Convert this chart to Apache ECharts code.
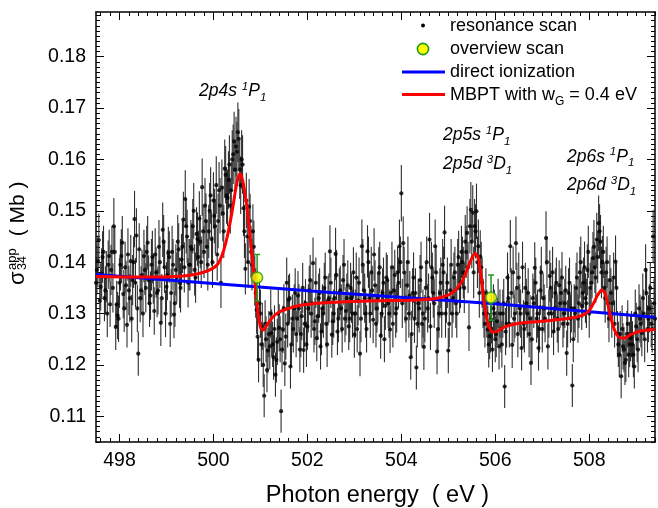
<!DOCTYPE html>
<html><head><meta charset="utf-8">
<script src="https://cdn.jsdelivr.net/npm/echarts@6/dist/echarts.min.js"></script>
<style>html,body{margin:0;padding:0;background:#fff}#c{width:658px;height:508px}</style>
</head><body><div id="c"></div>
<script>
// ---- data ----
// resonance scan, first set of scan points
const energies = [
497.52,497.56,497.60,497.64,497.68, 497.72,497.76,497.80,497.84,497.88,
497.92,497.96,498.00,498.04,498.08, 498.12,498.16,498.20,498.24,498.28,
498.32,498.36,498.40,498.44,498.48, 498.52,498.56,498.60,498.64,498.68,
498.72,498.76,498.80,498.84,498.88, 498.92,498.96,499.00,499.04,499.08,
499.12,499.16,499.20,499.24,499.28, 499.32,499.36,499.40,499.44,499.48,
499.52,499.56,499.60,499.64,499.68, 499.72,499.76,499.80,499.84,499.88,
499.92,499.96,500.00,500.04,500.08, 500.12,500.16,500.20,500.24,500.28,
500.32,500.36,500.40,500.44,500.48, 500.52,500.56,500.60,500.64,500.68,
500.72,500.76,500.80,500.84,500.88, 500.92,500.96,501.00,501.04,501.08,
501.12,501.16,501.20,501.24,501.28, 501.32,501.36,501.40,501.44,501.48,
501.52,501.56,501.60,501.64,501.68, 501.72,501.76,501.80,501.84,501.88,
501.92,501.96,502.00,502.04,502.08, 502.12,502.16,502.20,502.24,502.28,
502.32,502.36,502.40,502.44,502.48, 502.52,502.56,502.60,502.64,502.68,
502.72,502.76,502.80,502.84,502.88, 502.92,502.96,503.00,503.04,503.08,
503.12,503.16,503.20,503.24,503.28, 503.32,503.36,503.40,503.44,503.48,
503.52,503.56,503.60,503.64,503.68, 503.72,503.76,503.80,503.84,503.88,
503.92,503.96,504.00,504.04,504.08, 504.12,504.16,504.20,504.24,504.28,
504.32,504.36,504.40,504.44,504.48, 504.52,504.56,504.60,504.64,504.68,
504.72,504.76,504.80,504.84,504.88, 504.92,504.96,505.00,505.04,505.08,
505.12,505.16,505.20,505.24,505.28, 505.32,505.36,505.40,505.44,505.48,
505.52,505.56,505.60,505.64,505.68, 505.72,505.76,505.80,505.84,505.88,
505.92,505.96,506.00,506.04,506.08, 506.12,506.16,506.20,506.24,506.28,
506.32,506.36,506.40,506.44,506.48, 506.52,506.56,506.60,506.64,506.68,
506.72,506.76,506.80,506.84,506.88, 506.92,506.96,507.00,507.04,507.08,
507.12,507.16,507.20,507.24,507.28, 507.32,507.36,507.40,507.44,507.48,
507.52,507.56,507.60,507.64,507.68, 507.72,507.76,507.80,507.84,507.88,
507.92,507.96,508.00,508.04,508.08, 508.12,508.16,508.20,508.24,508.28,
508.32,508.36,508.40,508.44,508.48, 508.52,508.56,508.60,508.64,508.68,
508.72,508.76,508.80,508.84,508.88, 508.92,508.96,509.00,509.04,509.08,
509.12,509.16,509.20,509.24,509.28, 509.32,509.36,509.40
];
const values = [
0.1385,0.1443,0.1352,0.1410,0.1330, 0.1372,0.1395,0.1318,0.1420,0.1470,
0.1274,0.1296,0.1360,0.1412,0.1338, 0.1390,0.1278,0.1345,0.1402,0.1365,
0.1484,0.1452,0.1222,0.1330,0.1375, 0.1412,0.1350,0.1438,0.1320,0.1395,
0.1368,0.1415,0.1340,0.1430,0.1282, 0.1463,0.1390,0.1352,0.1418,0.1280,
0.1420,0.1298,0.1385,0.1440,0.1360, 0.1405,0.1483,0.1523,0.1450,0.1395,
0.1430,0.1470,0.1385,0.1455,0.1410, 0.1440,0.1546,0.1420,0.1480,0.1395,
0.1500,0.1445,0.1520,0.1470,0.1415, 0.1540,0.1360,0.1495,0.1582,0.1530,
0.1560,0.1510,0.1600,0.1635,0.1625, 0.1653,0.1580,0.1600,0.1505,0.1387,
0.1450,0.1508,0.1420,0.1460,0.1364, 0.1307,0.1210,0.1300,0.1275,0.1140,
0.1250,0.1228,0.1236,0.1262,0.1215, 0.1181,0.1245,0.1272,0.1110,0.1269,
0.1203,0.1360,0.1327,0.1197,0.1290, 0.1310,0.1260,0.1335,0.1230,0.1295,
0.1229,0.1320,0.1275,0.1345,0.1300, 0.1398,0.1285,0.1252,0.1330,0.1236,
0.1310,0.1350,0.1280,0.1325,0.1421, 0.1259,0.1300,0.1416,0.1265,0.1340,
0.1310,0.1365,0.1290,0.1330,0.1275, 0.1350,0.1300,0.1259,0.1370,0.1325,
0.1222,0.1431,0.1345,0.1300,0.1421, 0.1330,0.1380,0.1288,0.1355,0.1310,
0.1379,0.1257,0.1340,0.1250,0.1370, 0.1320,0.1269,0.1390,0.1345,0.1300,
0.1380,0.1431,0.1534,0.1437,0.1330, 0.1355,0.1300,0.1215,0.1340,0.1290,
0.1195,0.1320,0.1365,0.1280,0.1235, 0.1350,0.1310,0.1444,0.1390,0.1340,
0.1431,0.1226,0.1300,0.1360,0.1395, 0.1458,0.1330,0.1228,0.1345,0.1300,
0.1370,0.1320,0.1395,0.1350,0.1420, 0.1380,0.1440,0.1457,0.1273,0.1502,
0.1496,0.1470,0.1499,0.1431,0.1411, 0.1360,0.1300,0.1340,0.1269,0.1256,
0.1288,0.1310,0.1250,0.1285,0.1236, 0.1270,0.1300,0.1158,0.1280,0.1330,
0.1431,0.1239,0.1290,0.1437,0.1260, 0.1310,0.1233,0.1280,0.1350,0.1300,
0.1260,0.1204,0.1330,0.1389,0.1290, 0.1233,0.1345,0.1270,0.1310,0.1447,
0.1236,0.1373,0.1300,0.1265,0.1340, 0.1290,0.1355,0.1340,0.1280,0.1320,
0.1223,0.1340,0.1290,0.1160,0.1310, 0.1350,0.1290,0.1380,0.1315,0.1360,
0.1330,0.1385,0.1300,0.1360,0.1408, 0.1390,0.1444,0.1476,0.1440,0.1400,
0.1350,0.1380,0.1320,0.1365,0.1300, 0.1370,0.1401,0.1260,0.1220,0.1178,
0.1236,0.1204,0.1260,0.1220,0.1252, 0.1240,0.1197,0.1275,0.1230,0.1290,
0.1262,0.1300,0.1385,0.1270,0.1310, 0.1280,0.1450,0.1290
];
const errors = [
0.0048,0.0052,0.0046,0.0050,0.0045, 0.0050,0.0047,0.0044,0.0051,0.0055,
0.0045,0.0046,0.0049,0.0052,0.0047, 0.0050,0.0044,0.0048,0.0051,0.0049,
0.0055,0.0053,0.0043,0.0047,0.0049, 0.0051,0.0048,0.0052,0.0046,0.0050,
0.0049,0.0051,0.0047,0.0052,0.0045, 0.0053,0.0050,0.0048,0.0051,0.0045,
0.0051,0.0046,0.0050,0.0052,0.0049, 0.0050,0.0054,0.0056,0.0052,0.0050,
0.0052,0.0053,0.0050,0.0052,0.0051, 0.0052,0.0056,0.0051,0.0054,0.0050,
0.0054,0.0052,0.0055,0.0053,0.0051, 0.0055,0.0049,0.0054,0.0057,0.0055,
0.0056,0.0054,0.0057,0.0058,0.0058, 0.0058,0.0057,0.0057,0.0054,0.0050,
0.0052,0.0054,0.0051,0.0053,0.0049, 0.0047,0.0044,0.0047,0.0046,0.0042,
0.0045,0.0044,0.0045,0.0046,0.0044, 0.0043,0.0045,0.0046,0.0042,0.0046,
0.0044,0.0049,0.0048,0.0043,0.0047, 0.0047,0.0045,0.0048,0.0044,0.0047,
0.0044,0.0047,0.0046,0.0048,0.0047, 0.0050,0.0046,0.0045,0.0048,0.0045,
0.0047,0.0049,0.0046,0.0048,0.0051, 0.0045,0.0047,0.0051,0.0046,0.0048,
0.0047,0.0049,0.0046,0.0048,0.0046, 0.0049,0.0047,0.0045,0.0049,0.0048,
0.0044,0.0052,0.0048,0.0047,0.0051, 0.0048,0.0050,0.0046,0.0049,0.0047,
0.0050,0.0045,0.0048,0.0045,0.0049, 0.0048,0.0046,0.0050,0.0048,0.0047,
0.0050,0.0052,0.0055,0.0052,0.0048, 0.0049,0.0047,0.0044,0.0048,0.0047,
0.0043,0.0048,0.0049,0.0046,0.0045, 0.0049,0.0047,0.0052,0.0050,0.0048,
0.0052,0.0044,0.0047,0.0049,0.0050, 0.0052,0.0048,0.0044,0.0048,0.0047,
0.0049,0.0048,0.0050,0.0049,0.0051, 0.0050,0.0052,0.0052,0.0046,0.0054,
0.0054,0.0053,0.0054,0.0052,0.0051, 0.0049,0.0047,0.0048,0.0046,0.0045,
0.0046,0.0047,0.0045,0.0046,0.0045, 0.0046,0.0047,0.0042,0.0046,0.0048,
0.0051,0.0045,0.0047,0.0052,0.0045, 0.0047,0.0044,0.0046,0.0049,0.0047,
0.0045,0.0043,0.0048,0.0050,0.0047, 0.0044,0.0048,0.0046,0.0047,0.0052,
0.0045,0.0050,0.0047,0.0046,0.0048, 0.0047,0.0049,0.0048,0.0046,0.0048,
0.0044,0.0048,0.0047,0.0042,0.0047, 0.0049,0.0047,0.0050,0.0047,0.0049,
0.0048,0.0050,0.0047,0.0049,0.0051, 0.0050,0.0052,0.0054,0.0052,0.0051,
0.0049,0.0050,0.0048,0.0049,0.0047, 0.0049,0.0051,0.0045,0.0044,0.0043,
0.0045,0.0043,0.0045,0.0044,0.0045, 0.0045,0.0043,0.0046,0.0044,0.0047,
0.0045,0.0047,0.0050,0.0046,0.0047, 0.0046,0.0052,0.0047
];
// resonance scan, interleaved second set of scan points
const energies2 = [
497.50,497.54,497.58,497.62,497.66, 497.70,497.74,497.78,497.82,497.86,
497.90,497.94,497.98,498.02,498.06, 498.10,498.14,498.18,498.22,498.26,
498.30,498.34,498.38,498.42,498.46, 498.50,498.54,498.58,498.62,498.66,
498.70,498.74,498.78,498.82,498.86, 498.90,498.94,498.98,499.02,499.06,
499.10,499.14,499.18,499.22,499.26, 499.30,499.34,499.38,499.42,499.46,
499.50,499.54,499.58,499.62,499.66, 499.70,499.74,499.78,499.82,499.86,
499.90,499.94,499.98,500.02,500.06, 500.10,500.14,500.18,500.22,500.26,
500.30,500.34,500.38,500.42,500.46, 500.50,500.54,500.58,500.62,500.66,
500.70,500.74,500.78,500.82,500.86, 500.90,500.94,500.98,501.02,501.06,
501.10,501.14,501.18,501.22,501.26, 501.30,501.34,501.38,501.42,501.46,
501.50,501.54,501.58,501.62,501.66, 501.70,501.74,501.78,501.82,501.86,
501.90,501.94,501.98,502.02,502.06, 502.10,502.14,502.18,502.22,502.26,
502.30,502.34,502.38,502.42,502.46, 502.50,502.54,502.58,502.62,502.66,
502.70,502.74,502.78,502.82,502.86, 502.90,502.94,502.98,503.02,503.06,
503.10,503.14,503.18,503.22,503.26, 503.30,503.34,503.38,503.42,503.46,
503.50,503.54,503.58,503.62,503.66, 503.70,503.74,503.78,503.82,503.86,
503.90,503.94,503.98,504.02,504.06, 504.10,504.14,504.18,504.22,504.26,
504.30,504.34,504.38,504.42,504.46, 504.50,504.54,504.58,504.62,504.66,
504.70,504.74,504.78,504.82,504.86, 504.90,504.94,504.98,505.02,505.06,
505.10,505.14,505.18,505.22,505.26, 505.30,505.34,505.38,505.42,505.46,
505.50,505.54,505.58,505.62,505.66, 505.70,505.74,505.78,505.82,505.86,
505.90,505.94,505.98,506.02,506.06, 506.10,506.14,506.18,506.22,506.26,
506.30,506.34,506.38,506.42,506.46, 506.50,506.54,506.58,506.62,506.66,
506.70,506.74,506.78,506.82,506.86, 506.90,506.94,506.98,507.02,507.06,
507.10,507.14,507.18,507.22,507.26, 507.30,507.34,507.38,507.42,507.46,
507.50,507.54,507.58,507.62,507.66, 507.70,507.74,507.78,507.82,507.86,
507.90,507.94,507.98,508.02,508.06, 508.10,508.14,508.18,508.22,508.26,
508.30,508.34,508.38,508.42,508.46, 508.50,508.54,508.58,508.62,508.66,
508.70,508.74,508.78,508.82,508.86, 508.90,508.94,508.98,509.02,509.06,
509.10,509.14,509.18,509.22,509.26, 509.30,509.34,509.38
];
const values2 = [
0.1360,0.1402,0.1325,0.1378,0.1420, 0.1345,0.1300,0.1412,0.1385,0.1350,
0.1420,0.1318,0.1290,0.1395,0.1438, 0.1310,0.1355,0.1415,0.1330,0.1290,
0.1400,0.1360,0.1310,0.1425,0.1345, 0.1300,0.1385,0.1420,0.1365,0.1335,
0.1410,0.1305,0.1380,0.1345,0.1400, 0.1330,0.1440,0.1300,0.1375,0.1410,
0.1340,0.1395,0.1320,0.1370,0.1425, 0.1350,0.1430,0.1390,0.1470,0.1360,
0.1395,0.1425,0.1500,0.1370,0.1445, 0.1485,0.1400,0.1460,0.1510,0.1430,
0.1460,0.1530,0.1400,0.1490,0.1550, 0.1480,0.1510,0.1545,0.1460,0.1570,
0.1525,0.1590,0.1540,0.1610,0.1580, 0.1615,0.1640,0.1550,0.1590,0.1460,
0.1520,0.1400,0.1480,0.1395,0.1430, 0.1340,0.1255,0.1320,0.1240,0.1200,
0.1280,0.1190,0.1260,0.1300,0.1240, 0.1270,0.1210,0.1300,0.1250,0.1230,
0.1310,0.1255,0.1280,0.1330,0.1240, 0.1270,0.1340,0.1290,0.1310,0.1260,
0.1350,0.1280,0.1240,0.1310,0.1365, 0.1320,0.1270,0.1360,0.1295,0.1340,
0.1265,0.1300,0.1370,0.1240,0.1330, 0.1360,0.1285,0.1330,0.1375,0.1290,
0.1345,0.1270,0.1395,0.1305,0.1355, 0.1290,0.1330,0.1380,0.1300,0.1270,
0.1360,0.1290,0.1395,0.1330,0.1270, 0.1400,0.1300,0.1345,0.1415,0.1280,
0.1330,0.1390,0.1300,0.1360,0.1315, 0.1365,0.1300,0.1340,0.1280,0.1375,
0.1310,0.1360,0.1400,0.1320,0.1380, 0.1290,0.1400,0.1335,0.1260,0.1370,
0.1340,0.1280,0.1310,0.1390,0.1300, 0.1290,0.1400,0.1330,0.1275,0.1370,
0.1320,0.1380,0.1270,0.1340,0.1300, 0.1380,0.1300,0.1360,0.1280,0.1395,
0.1330,0.1380,0.1300,0.1410,0.1360, 0.1400,0.1350,0.1420,0.1390,0.1470,
0.1440,0.1380,0.1460,0.1400,0.1340, 0.1390,0.1320,0.1280,0.1300,0.1240,
0.1270,0.1230,0.1300,0.1260,0.1320, 0.1300,0.1240,0.1320,0.1265,0.1370,
0.1280,0.1340,0.1380,0.1300,0.1350, 0.1370,0.1300,0.1390,0.1270,0.1320,
0.1340,0.1290,0.1250,0.1320,0.1360, 0.1300,0.1270,0.1380,0.1330,0.1290,
0.1400,0.1300,0.1350,0.1380,0.1310, 0.1360,0.1270,0.1320,0.1370,0.1300,
0.1345,0.1280,0.1360,0.1310,0.1250, 0.1300,0.1370,0.1320,0.1400,0.1340,
0.1390,0.1320,0.1420,0.1350,0.1380, 0.1430,0.1370,0.1410,0.1460,0.1380,
0.1420,0.1330,0.1400,0.1290,0.1340, 0.1320,0.1280,0.1350,0.1240,0.1260,
0.1270,0.1230,0.1210,0.1280,0.1240, 0.1260,0.1220,0.1300,0.1250,0.1310,
0.1280,0.1330,0.1250,0.1340,0.1290, 0.1350,0.1270,0.1320
];
const errors2 = [
0.0049,0.0050,0.0046,0.0049,0.0051, 0.0047,0.0046,0.0051,0.0049,0.0048,
0.0051,0.0046,0.0045,0.0050,0.0052, 0.0046,0.0048,0.0051,0.0047,0.0046,
0.0050,0.0048,0.0046,0.0051,0.0047, 0.0046,0.0049,0.0051,0.0048,0.0047,
0.0051,0.0046,0.0049,0.0047,0.0050, 0.0047,0.0052,0.0046,0.0049,0.0050,
0.0047,0.0050,0.0046,0.0049,0.0051, 0.0048,0.0051,0.0049,0.0053,0.0048,
0.0050,0.0051,0.0054,0.0049,0.0052, 0.0053,0.0050,0.0052,0.0054,0.0051,
0.0052,0.0055,0.0050,0.0053,0.0056, 0.0053,0.0054,0.0055,0.0052,0.0056,
0.0055,0.0057,0.0055,0.0058,0.0057, 0.0058,0.0058,0.0056,0.0057,0.0052,
0.0054,0.0050,0.0053,0.0050,0.0051, 0.0048,0.0045,0.0047,0.0044,0.0043,
0.0046,0.0043,0.0045,0.0047,0.0044, 0.0046,0.0044,0.0047,0.0045,0.0044,
0.0047,0.0045,0.0046,0.0048,0.0044, 0.0046,0.0048,0.0046,0.0047,0.0045,
0.0049,0.0046,0.0044,0.0047,0.0049, 0.0047,0.0046,0.0049,0.0046,0.0048,
0.0046,0.0047,0.0049,0.0044,0.0048, 0.0049,0.0046,0.0048,0.0049,0.0046,
0.0048,0.0046,0.0050,0.0047,0.0049, 0.0046,0.0048,0.0049,0.0047,0.0046,
0.0049,0.0046,0.0050,0.0048,0.0046, 0.0050,0.0047,0.0048,0.0051,0.0046,
0.0048,0.0050,0.0047,0.0049,0.0047, 0.0049,0.0047,0.0048,0.0046,0.0049,
0.0047,0.0049,0.0050,0.0048,0.0050, 0.0046,0.0050,0.0048,0.0045,0.0049,
0.0048,0.0046,0.0047,0.0050,0.0047, 0.0046,0.0050,0.0048,0.0046,0.0049,
0.0048,0.0050,0.0046,0.0048,0.0047, 0.0050,0.0047,0.0049,0.0046,0.0050,
0.0048,0.0050,0.0047,0.0051,0.0049, 0.0050,0.0049,0.0051,0.0050,0.0053,
0.0052,0.0050,0.0053,0.0050,0.0048, 0.0050,0.0048,0.0046,0.0047,0.0045,
0.0046,0.0044,0.0047,0.0045,0.0048, 0.0047,0.0045,0.0048,0.0046,0.0049,
0.0046,0.0048,0.0050,0.0047,0.0049, 0.0049,0.0047,0.0050,0.0046,0.0048,
0.0048,0.0046,0.0045,0.0048,0.0049, 0.0047,0.0046,0.0050,0.0048,0.0046,
0.0050,0.0047,0.0049,0.0050,0.0047, 0.0049,0.0046,0.0048,0.0050,0.0047,
0.0048,0.0046,0.0049,0.0047,0.0045, 0.0047,0.0049,0.0048,0.0050,0.0048,
0.0050,0.0048,0.0051,0.0049,0.0050, 0.0052,0.0049,0.0051,0.0053,0.0050,
0.0051,0.0048,0.0050,0.0046,0.0048, 0.0047,0.0046,0.0049,0.0044,0.0045,
0.0046,0.0044,0.0043,0.0046,0.0044, 0.0045,0.0044,0.0047,0.0045,0.0047,
0.0046,0.0048,0.0045,0.0048,0.0046, 0.0049,0.0046,0.0048
];
const overviewEnergies = [500.93, 505.91];
const overviewValues = [0.1370, 0.1331];
const overviewErrors = [0.0045, 0.0044];
const directIonization = [[497.5,0.1376],[502.5,0.1341],[506.0,0.1319],[509.4,0.1293]];
const mbptCurve = [
[497.5,0.1372],[498.5,0.1371],[499.2,0.1372],[499.6,0.1376],[499.9,0.1384],[500.08,0.1395],
[500.2,0.1418],[500.3,0.1452],[500.4,0.1500],[500.48,0.1545],[500.56,0.1572],[500.62,0.1560],
[500.68,0.1528],[500.73,0.1495],[500.78,0.1450],[500.83,0.1405],[500.89,0.1353],[500.95,0.1300],
[501.01,0.1272],[501.06,0.1268],[501.13,0.1276],[501.25,0.1292],[501.4,0.1303],[501.6,0.1310],
[501.85,0.1316],[502.2,0.1320],[502.8,0.1323],[503.5,0.1325],[504.2,0.1326],[504.7,0.1329],
[505.0,0.1336],[505.15,0.1346],[505.3,0.1364],[505.42,0.1390],[505.5,0.1408],[505.57,0.1417],
[505.63,0.1410],[505.68,0.1385],[505.74,0.1340],[505.8,0.1300],[505.87,0.1274],[505.95,0.1264],
[506.05,0.1266],[506.2,0.1274],[506.5,0.1281],[507.0,0.1285],[507.5,0.1290],[507.8,0.1295],
[507.98,0.1304],[508.08,0.1318],[508.18,0.1336],[508.27,0.1346],[508.34,0.1338],[508.42,0.1308],
[508.52,0.1272],[508.62,0.1255],[508.73,0.1252],[508.9,0.1260],[509.1,0.1266],[509.4,0.1269]
];
const xTickLabels = [498, 500, 502, 504, 506, 508];
const yTickLabels = [0.11, 0.12, 0.13, 0.14, 0.15, 0.16, 0.17, 0.18];
const xRange = [497.5, 509.4];
const yRange = [0.105, 0.1887];

// ---- helpers ----
const FONT = '"Liberation Sans", Arial, Helvetica, sans-serif';
const mctx = document.createElement('canvas').getContext('2d');
function tw(text, size, italic) {
  mctx.font = (italic ? 'italic ' : '') + size + 'px ' + FONT;
  return mctx.measureText(text).width;
}
function textRun(x0, y0, parts, italic) {
  const els = []; let x = x0;
  parts.forEach(p => {
    els.push({ type: 'text', x: x, y: y0 + (p.dy || 0) - 0.35 * p.s,
      style: { text: p.t, fontSize: p.s, fontFamily: FONT, fontStyle: italic ? 'italic' : 'normal',
        fill: '#000', align: 'left', verticalAlign: 'middle' }, silent: true });
    x += tw(p.t, p.s, italic);
  });
  return els;
}
const xMinor = []; for (let k = Math.ceil(xRange[0] * 5); k <= Math.floor(xRange[1] * 5); k++) { if (k % 10 !== 0) xMinor.push(k / 5); }
const yMinor = []; for (let k = Math.ceil(yRange[0] * 1000); k <= Math.floor(yRange[1] * 1000); k++) { if (k % 10 !== 0) yMinor.push(k / 1000); }

const resonance = energies.map((e, i) => [e, values[i], errors[i]])
  .concat(energies2.map((e, i) => [e, values2[i], errors2[i]]))
  .sort((a, b) => a[0] - b[0]);
const overview = overviewEnergies.map((e, i) => [e, overviewValues[i], overviewErrors[i]]);

function xAx(pos, ticks, len, showLine, showLabel) {
  return { type: 'value', position: pos, min: xRange[0], max: xRange[1], gridIndex: 0,
    axisLine: { show: showLine, onZero: false, lineStyle: { color: '#000', width: 1.5 } },
    axisTick: { show: true, inside: true, length: len, customValues: ticks, lineStyle: { color: '#000', width: 1 } },
    axisLabel: { show: showLabel, customValues: xTickLabels, color: '#000', fontSize: 19.5, fontFamily: FONT, margin: 9 },
    splitLine: { show: false } };
}
function yAx(pos, ticks, len, showLine, showLabel) {
  return { type: 'value', position: pos, min: yRange[0], max: yRange[1], gridIndex: 0,
    axisLine: { show: showLine, onZero: false, lineStyle: { color: '#000', width: 1.5 } },
    axisTick: { show: true, inside: true, length: len, customValues: ticks, lineStyle: { color: '#000', width: 1 } },
    axisLabel: { show: showLabel, customValues: yTickLabels, color: '#000', fontSize: 19.5, fontFamily: FONT, margin: 10,
      formatter: v => v.toFixed(2) },
    splitLine: { show: false } };
}

const graphics = [];
graphics.push({ type: 'text', x: 377.5, y: 503.3 - 0.35 * 23.5,
  style: { text: 'Photon energy  ( eV )', fontSize: 23.5, fontFamily: FONT, fill: '#000', align: 'center', verticalAlign: 'middle' } });
const sig = 22, small = 13;
const wSig = tw('\u03c3', sig, false);
const wApp = tw('app', small, false);
graphics.push({ type: 'group', x: 26, y: 285, rotation: Math.PI / 2,
  children: [].concat(
    textRun(0, 0, [{ t: '\u03c3', s: sig }], false),
    textRun(wSig + 1.5, -9.5, [{ t: 'app', s: small }], false),
    textRun(wSig + 1.5, 1, [{ t: '34', s: 12.5 }], false),
    textRun(wSig + 1.5 + wApp + 12, 0, [{ t: '( Mb )', s: 21 }], false)
  ) });
const A = 17.5, S = 11.5;
function label(x, y, main, sup, letter) {
  return textRun(x, y, [{ t: main + ' ', s: A }, { t: sup, s: S, dy: -7 }, { t: letter, s: A }, { t: '1', s: S, dy: 4 }], true);
}
graphics.push(...label(199, 97.7, '2p4s', '1', 'P'));
graphics.push(...label(443, 141.7, '2p5s', '1', 'P'));
graphics.push(...label(443, 170.5, '2p5d', '3', 'D'));
graphics.push(...label(567, 163.3, '2p6s', '1', 'P'));
graphics.push(...label(567, 191.5, '2p6d', '3', 'D'));
const L = 18;
graphics.push({ type: 'circle', shape: { cx: 423, cy: 25.5, r: 2 }, style: { fill: '#000' } });
graphics.push({ type: 'circle', shape: { cx: 423, cy: 49, r: 5.6 }, style: { fill: '#ffff00', stroke: '#1f9a1f', lineWidth: 1.6 } });
graphics.push({ type: 'line', shape: { x1: 402, y1: 72, x2: 445, y2: 72 }, style: { stroke: '#0000ff', lineWidth: 3 } });
graphics.push({ type: 'line', shape: { x1: 402, y1: 94.5, x2: 445, y2: 94.5 }, style: { stroke: '#ff0000', lineWidth: 3 } });
graphics.push(...textRun(450, 32, [{ t: 'resonance scan', s: L }], false));
graphics.push(...textRun(450, 55.5, [{ t: 'overview scan', s: L }], false));
graphics.push(...textRun(450, 78.5, [{ t: 'direct ionization', s: L }], false));
graphics.push(...textRun(450, 101.5, [{ t: 'MBPT with w', s: L }, { t: 'G', s: 12, dy: 4 }, { t: ' = 0.4 eV', s: L }], false));

const chart = echarts.init(document.getElementById('c'), null, { renderer: 'canvas' });
chart.setOption({
  animation: false,
  backgroundColor: '#fff',
  grid: { left: 96, top: 12, width: 559, height: 430, containLabel: false },
  xAxis: [
    xAx('bottom', xTickLabels, 8, true, true),
    xAx('bottom', xMinor, 4, false, false),
    xAx('top', xTickLabels, 8, true, false),
    xAx('top', xMinor, 4, false, false)
  ],
  yAxis: [
    yAx('left', yTickLabels, 8, true, true),
    yAx('left', yMinor, 4, false, false),
    yAx('right', yTickLabels, 8, true, false),
    yAx('right', yMinor, 4, false, false)
  ],
  series: [
    { type: 'custom', name: 'resonance scan errors', data: resonance, encode: { x: 0, y: 1 }, z: 1, silent: true,
      renderItem: (p, api) => {
        const x = api.value(0), y = api.value(1), e = api.value(2);
        const a = api.coord([x, y - e]), b = api.coord([x, y + e]);
        return { type: 'line', shape: { x1: a[0], y1: a[1], x2: b[0], y2: b[1] }, style: { stroke: '#2e2e2e', lineWidth: 1.1 } };
      } },
    { type: 'scatter', name: 'resonance scan', data: resonance.map(d => [d[0], d[1]]), symbol: 'circle', symbolSize: 4.2,
      itemStyle: { color: '#000' }, z: 2, silent: true },
    { type: 'line', name: 'direct ionization', data: directIonization, showSymbol: false, symbol: 'none',
      lineStyle: { color: '#0000ff', width: 3 }, z: 3, silent: true },
    { type: 'line', name: 'MBPT with wG = 0.4 eV', data: mbptCurve, showSymbol: false, symbol: 'none', smooth: 0.3,
      lineStyle: { color: '#ff0000', width: 3 }, z: 4, silent: true },
    { type: 'custom', name: 'overview scan errors', data: overview, encode: { x: 0, y: 1 }, z: 5, silent: true,
      renderItem: (p, api) => {
        const x = api.value(0), y = api.value(1), e = api.value(2);
        const a = api.coord([x, y - e]), b = api.coord([x, y + e]);
        const st = { stroke: '#1f9a1f', lineWidth: 1.5 };
        return { type: 'group', children: [
          { type: 'line', shape: { x1: a[0], y1: a[1], x2: b[0], y2: b[1] }, style: st },
          { type: 'line', shape: { x1: a[0] - 3, y1: a[1], x2: a[0] + 3, y2: a[1] }, style: st },
          { type: 'line', shape: { x1: b[0] - 3, y1: b[1], x2: b[0] + 3, y2: b[1] }, style: st }
        ] };
      } },
    { type: 'scatter', name: 'overview scan', data: overview.map(d => [d[0], d[1]]), symbol: 'circle', symbolSize: 11,
      itemStyle: { color: '#ffff00', borderColor: '#1f9a1f', borderWidth: 1.6 }, z: 6, silent: true }
  ],
  graphic: graphics
});
</script>
</body></html>
